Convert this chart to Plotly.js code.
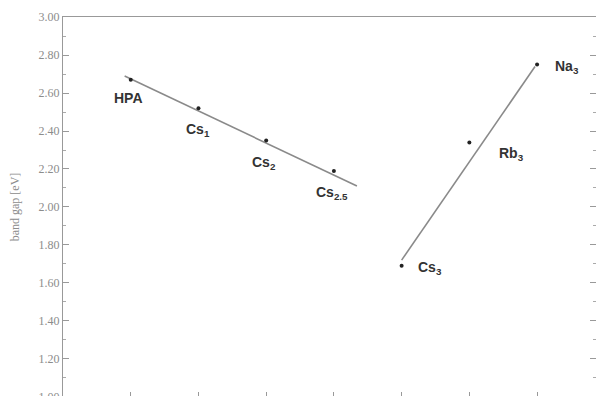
<!DOCTYPE html>
<html><head><meta charset="utf-8">
<script src="https://cdn.plot.ly/plotly-3.0.1.min.js"></script>
<style>html,body{margin:0;padding:0;overflow:hidden;background:#fff}</style>
</head><body>
<div id="chart" style="width:596px;height:400px"></div>
<script>
const pointLabels = ['HPA', 'Cs<sub>1</sub>', 'Cs<sub>2</sub>', 'Cs<sub>2.5</sub>', 'Cs<sub>3</sub>', 'Rb<sub>3</sub>', 'Na<sub>3</sub>'];
const xPos = [1, 2, 3, 4, 5, 6, 7];
const bandGap = [2.67, 2.52, 2.35, 2.19, 1.69, 2.34, 2.75];
const fit1X = [0.91, 4.34];
const fit1Y = [2.69, 2.11];
const fit2X = [5.0, 6.97];
const fit2Y = [1.72, 2.74];
const labelDx = [-2, 0, -2, -2, 28, 42, 30];
const labelDy = [18, 22, 22, 22, 2, 12, 2];

const traces = [
  {x: fit1X, y: fit1Y, mode: 'lines', line: {color: '#8a8a8a', width: 1.6}, hoverinfo: 'skip'},
  {x: fit2X, y: fit2Y, mode: 'lines', line: {color: '#8a8a8a', width: 1.6}, hoverinfo: 'skip'},
  {x: xPos, y: bandGap, mode: 'markers', marker: {color: '#222', size: 4, symbol: 'circle'}}
];

const annotations = pointLabels.map((t, i) => ({
  x: xPos[i], y: bandGap[i], xref: 'x', yref: 'y', text: '<b>' + t + '</b>',
  showarrow: false, xshift: labelDx[i], yshift: -labelDy[i],
  font: {family: 'Liberation Sans, Arial, sans-serif', size: 14, color: '#333'}
}));

const layout = {
  width: 596, height: 400,
  margin: {l: 63, r: 0, t: 17, b: 3},
  showlegend: false,
  paper_bgcolor: '#fff', plot_bgcolor: '#fff',
  xaxis: {range: [0, 7.87], tickvals: xPos, ticks: 'inside', ticklen: 5, tickcolor: '#999',
    showticklabels: false, showgrid: false, zeroline: false, showline: true,
    linecolor: '#999', linewidth: 1, mirror: true},
  yaxis: {range: [0.999, 3.0005], tickvals: [1.0, 1.2, 1.4, 1.6, 1.8, 2.0, 2.2, 2.4, 2.6, 2.8, 3.0],
    tickformat: '.2f', ticks: 'inside', ticklen: 6, tickcolor: '#999', ticklabeloverflow: 'allow',
    showgrid: false, zeroline: false, showline: true, linecolor: '#999', linewidth: 1, mirror: 'ticks',
    minor: {dtick: 0.1, ticks: 'inside', ticklen: 3, tickcolor: '#aaa'},
    tickfont: {family: 'Liberation Serif, Times New Roman, serif', size: 12, color: '#8c8c8c'},
    title: {text: 'band gap [eV]', standoff: 16,
      font: {family: 'Liberation Serif, Times New Roman, serif', size: 12, color: '#8c8c8c'}}},
  annotations: annotations
};

Plotly.newPlot('chart', traces, layout, {staticPlot: true, displayModeBar: false});
</script>
</body></html>
